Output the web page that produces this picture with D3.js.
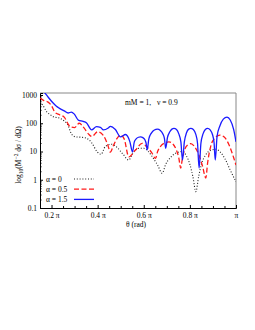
<!DOCTYPE html>
<html>
<head>
<meta charset="utf-8">
<script src="https://cdn.jsdelivr.net/npm/d3@7"></script>
<style>
	body { margin: 0; background: #fff; }
	text { font-family: "Liberation Serif", "DejaVu Serif", serif; }
</style>
</head>
<body>
<div id="canvas"></div>
<script>
// theta in units of pi, values of dsigma/dOmega * M^2
var theta0 = [0.150, 0.162, 0.179, 0.195, 0.208, 0.237, 0.255, 0.270, 0.288, 0.305, 0.330, 0.350, 0.375, 0.397, 0.415, 0.433, 0.460, 0.484, 0.510, 0.535, 0.550, 0.565, 0.580, 0.600, 0.620, 0.640, 0.660, 0.680, 0.695, 0.715, 0.740, 0.768, 0.785, 0.800, 0.813, 0.826, 0.838, 0.850, 0.868, 0.890, 0.913, 0.935, 0.955, 0.975, 1.000];
var alpha0 = [560, 440, 256, 200, 170, 150, 120, 90, 40, 33, 32, 30, 20, 10, 8, 15, 18, 14, 8, 5, 8, 11.5, 13, 13, 10, 6, 3.3, 1.7, 3.5, 6, 8.8, 10, 7, 3.5, 1.3, 0.38, 1.3, 3.5, 7.5, 11, 12, 9, 5, 2.2, 0.85];

var theta05 = [0.150, 0.165, 0.185, 0.200, 0.215, 0.235, 0.255, 0.270, 0.280, 0.300, 0.320, 0.340, 0.360, 0.375, 0.400, 0.425, 0.443, 0.455, 0.468, 0.485, 0.499, 0.515, 0.535, 0.564, 0.593, 0.615, 0.635, 0.651, 0.660, 0.672, 0.690, 0.709, 0.725, 0.740, 0.752, 0.760, 0.768, 0.778, 0.790, 0.804, 0.820, 0.838, 0.855, 0.869, 0.877, 0.890, 0.905, 0.930, 0.950, 0.970, 0.990, 1.000];
var alpha05 = [780, 650, 560, 420, 240, 200, 165, 100, 76, 70, 100, 70, 42, 34, 50, 37, 18, 9.5, 16, 30, 38, 28, 6.5, 11.3, 19.4, 14, 9, 5.7, 10, 15, 20, 22, 19, 12, 6, 2.6, 6, 12, 17, 19, 15, 8, 3, 1.15, 4, 15, 28, 38, 32, 17, 6, 3.3];

var theta15 = [0.150, 0.159, 0.170, 0.185, 0.207, 0.220, 0.233, 0.244, 0.255, 0.272, 0.286, 0.298, 0.316, 0.337, 0.351, 0.374, 0.395, 0.412, 0.425, 0.446, 0.455, 0.477, 0.499, 0.521, 0.540, 0.551, 0.559, 0.567, 0.577, 0.586, 0.596, 0.605, 0.610, 0.615, 0.622, 0.633, 0.646, 0.659, 0.672, 0.683, 0.690, 0.695, 0.703, 0.713, 0.722, 0.731, 0.742, 0.752, 0.761, 0.768, 0.776, 0.785, 0.795, 0.804, 0.815, 0.825, 0.833, 0.840, 0.848, 0.857, 0.867, 0.877, 0.888, 0.898, 0.905, 0.910, 0.918, 0.930, 0.945, 0.961, 0.975, 0.990, 1.000];
var alpha15 = [1500, 1300, 1200, 850, 520, 410, 345, 305, 275, 231, 250, 215, 130, 117, 105, 58, 76, 72, 58, 68, 78, 60, 33, 40, 22, 9.6, 22, 28, 32, 33, 31, 26, 20, 11.5, 28, 45, 58, 62, 56, 42, 28, 13, 32, 50, 62, 66, 60, 42, 22, 5, 22, 45, 62, 66, 60, 42, 20, 2.6, 20, 42, 60, 66, 58, 40, 20, 5, 35, 80, 140, 165, 130, 60, 22];

var xTicks = [0.2, 0.4, 0.6, 0.8, 1];
var yTicks = [0.1, 1, 10, 100, 1000];
var legendLabels = ["α = 0", "α = 0.5", "α = 1.5"];

var plotLeft = 40, plotRight = 236, plotTop = 93, plotBottom = 208;

var svg = d3.select("#canvas")
	.append("svg")
	.attr("width", 255)
	.attr("height", 330);

var x = d3.scaleLinear().domain([0.15, 1]).range([plotLeft, plotRight]);
var y = d3.scaleLog().domain([0.1, 1180]).range([plotBottom, plotTop]);

svg.append("clipPath")
	.attr("id", "plotclip")
	.append("rect")
	.attr("x", plotLeft)
	.attr("y", plotTop)
	.attr("width", plotRight - plotLeft)
	.attr("height", plotBottom - plotTop);

// frame (top and right in gray)
svg.append("path")
	.attr("d", "M" + plotLeft + "," + plotTop + "H" + plotRight + "V" + plotBottom)
	.attr("fill", "none")
	.attr("stroke", "#888")
	.attr("stroke-width", 1);

// minor ticks
var xMinor = d3.range(0.15, 1.001, 0.05).filter(function(d){ return xTicks.indexOf(Math.round(d*100)/100) < 0; });
svg.append("g")
	.attr("transform", "translate(0," + plotBottom + ")")
	.call(d3.axisBottom(x).tickValues(xMinor).tickSize(-2).tickFormat(""))
	.call(function(g){ g.select(".domain").remove(); });

var yMinor = [];
[0.1, 1, 10, 100].forEach(function(d){
	for (var k = 2; k <= 9; k++) yMinor.push(d * k);
});
svg.append("g")
	.attr("transform", "translate(" + plotLeft + ",0)")
	.call(d3.axisLeft(y).tickValues(yMinor).tickSize(-1.5).tickFormat(""))
	.call(function(g){ g.select(".domain").remove(); });

// main axes
var xAxis = svg.append("g")
	.attr("transform", "translate(0," + plotBottom + ")")
	.call(d3.axisBottom(x).tickValues(xTicks).tickSize(-3).tickPadding(6)
		.tickFormat(function(d){ return d === 1 ? "π" : d + " π"; }));

var yAxis = svg.append("g")
	.attr("transform", "translate(" + plotLeft + ",0)")
	.call(d3.axisLeft(y).tickValues(yTicks).tickSize(-3).tickPadding(3)
		.tickFormat(function(d){ return String(d); }));

[xAxis, yAxis].forEach(function(g){
	g.selectAll("text").attr("font-size", 7.5).attr("fill", "#000")
		.style("font-family", "Liberation Serif, serif");
	g.select(".domain").attr("stroke", "#000");
});
xAxis.selectAll("text").attr("dy", "0.55em");

// curves
var line = d3.line()
	.x(function(d){ return x(d[0]); })
	.y(function(d){ return y(d[1]); })
	.curve(d3.curveMonotoneX);

var series = [
	{ t: theta0, v: alpha0, color: "#222", width: 1.1, dash: "1,1.8" },
	{ t: theta05, v: alpha05, color: "#ff1a1a", width: 1.3, dash: "5,2.5" },
	{ t: theta15, v: alpha15, color: "#1a1aff", width: 1.3, dash: null }
];

var plot = svg.append("g").attr("clip-path", "url(#plotclip)");
series.forEach(function(s){
	plot.append("path")
		.datum(d3.zip(s.t, s.v))
		.attr("d", line)
		.attr("fill", "none")
		.attr("stroke", s.color)
		.attr("stroke-width", s.width)
		.attr("stroke-dasharray", s.dash);
});

// legend
var legend = svg.append("g");
series.forEach(function(s, i){
	var ly = 179 + i * 10.2;
	legend.append("text")
		.text(legendLabels[i])
		.attr("x", 46)
		.attr("y", ly + 2.5)
		.attr("font-size", 7.5);
	legend.append("line")
		.attr("x1", 74).attr("x2", 94)
		.attr("y1", ly).attr("y2", ly)
		.attr("stroke", s.color)
		.attr("stroke-width", s.width)
		.attr("stroke-dasharray", s.dash);
});

// annotation
svg.append("text").text("mM = 1,").attr("x", 125).attr("y", 105).attr("font-size", 7.5);
svg.append("text").text("ν = 0.9").attr("x", 157).attr("y", 105).attr("font-size", 7.5);

// axis titles
svg.append("text")
	.text("θ (rad)")
	.attr("x", 136)
	.attr("y", 227)
	.attr("text-anchor", "middle")
	.attr("font-size", 7.5);

var ylab = svg.append("text")
	.attr("transform", "translate(21,155) rotate(-90)")
	.attr("text-anchor", "middle")
	.attr("font-size", 7.5);
ylab.append("tspan").text("log");
ylab.append("tspan").text("10").attr("font-size", 5.5).attr("dy", 2);
ylab.append("tspan").text("(M").attr("dy", -2);
ylab.append("tspan").text("−2").attr("font-size", 5.5).attr("dy", -3);
ylab.append("tspan").text(" dσ / dΩ)").attr("dy", 3);
</script>
</body>
</html>
